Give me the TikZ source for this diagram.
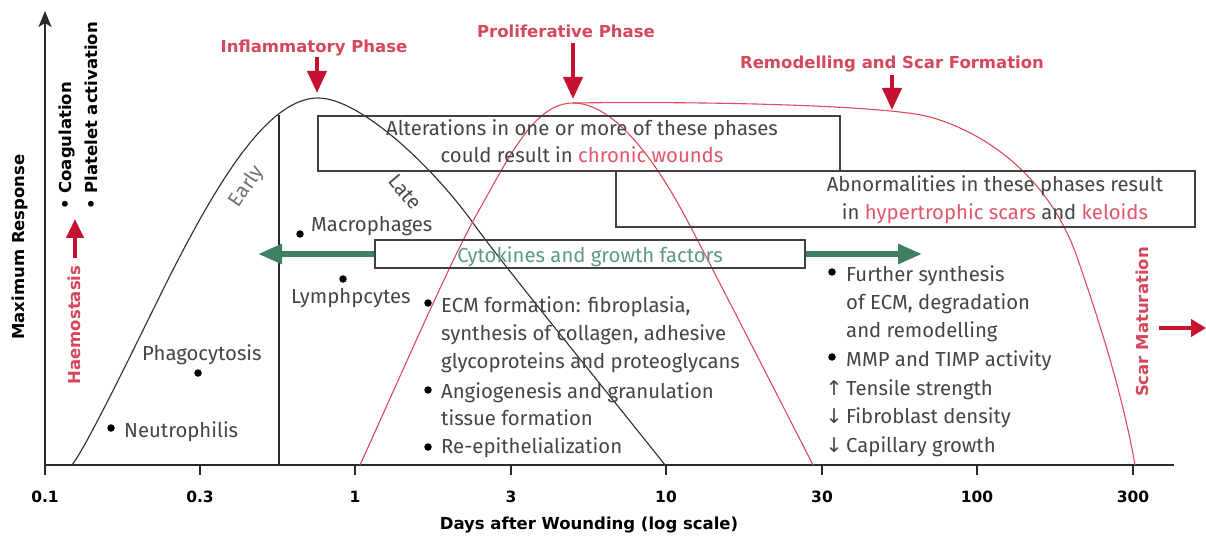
\documentclass[tikz,border=0pt]{standalone}
\usepackage{fontspec}
\setmainfont{Fira Sans}
\newfontfamily\labfont{DejaVu Sans}
\newfontfamily\arrfont{DejaVu Sans}
\usetikzlibrary{arrows.meta}
\definecolor{txt}{HTML}{454545}
\definecolor{lred}{HTML}{D5485C}
\definecolor{tred}{HTML}{E0566C}
\definecolor{ared}{HTML}{C41230}
\definecolor{cred}{HTML}{E04A5A}
\definecolor{gtxt}{HTML}{5E9A80}
\definecolor{garr}{HTML}{3F7F62}
\definecolor{boxc}{HTML}{404040}
\definecolor{axc}{HTML}{2A2A2A}
\begin{document}
\begin{tikzpicture}[x=1pt,y=-1pt,
  body/.style={font=\fontsize{20.3}{24}\selectfont, text=txt, inner sep=0pt},
  lab/.style={font=\labfont\bfseries\fontsize{16.5}{19}\selectfont, text=lred, inner sep=0pt},
  blab/.style={font=\labfont\bfseries\fontsize{16.5}{19}\selectfont, text=black, inner sep=0pt},
  tick/.style={font=\labfont\bfseries\fontsize{15.5}{18}\selectfont, text=black, inner sep=0pt, anchor=base},
  boxst/.style={draw=boxc, line width=1.4pt},
  redarr/.style={draw=ared, line width=4pt, -{Triangle[length=22pt,width=19pt]}},
  grarr/.style={draw=garr, line width=5.5pt, -{Triangle[length=24pt,width=19pt]}},
  dot/.style={circle, fill=black, inner sep=0pt, minimum size=7.5pt},
  curveblk/.style={draw=black!80, line width=1.15pt},
  curvered/.style={draw=cred, line width=1.1pt}]
\fill[white] (0,0) rectangle (1206,537);
\useasboundingbox (0,0) rectangle (1206,537);

% axes
\coordinate (org) at (45,465);
\coordinate (ytop) at (45,11);
\coordinate (xend) at (1174,465);
\draw[axc, line width=1.8pt, -{Stealth[length=16pt,width=13pt,inset=4pt]}] (org) -- (ytop);
\draw[axc, line width=1.8pt] (org) -- (xend);
\foreach \x/\l in {45/0.1,200/0.3,355/1,511/3,666/10,822/30,977/100,1133/300}{
  \draw[axc, line width=1.3pt] (\x,465) -- (\x,475);
  \node[tick] (t\l) at (\x,502) {\l};
}
\node[blab, anchor=base] (xtitle) at (589,529) {Days after Wounding (log scale)};
\node[blab, rotate=90, anchor=base] (ytitle) at (24,247) {Maximum Response};

% inflammatory curve
\draw[curveblk] (72,465) .. controls (90,442) and (157,300) .. (177,262)
  .. controls (222,175) and (270,98) .. (318,98)
  .. controls (360,98) and (433,167) .. (473,223)
  .. controls (503,265) and (620,408) .. (665,465);
\draw[axc, line width=1.5pt] (279,115) -- (279,465);
% proliferative curve
\draw[curvered] (360,465) .. controls (405,366) and (450,262) .. (478,212)
  .. controls (510,155) and (535,103) .. (573,103)
  .. controls (610,103) and (650,150) .. (687,220)
  .. controls (720,283) and (790,420) .. (813,465);
% remodelling curve
\draw[curvered] (573,103) .. controls (720,101) and (890,106) .. (930,117)
  .. controls (990,134) and (1050,180) .. (1077,257)
  .. controls (1090,295) and (1120,380) .. (1135,465);

% boxes
\draw[boxst] (318,116) rectangle (840,171);
\draw[boxst] (616,171) rectangle (1195,227);
\node[boxst, minimum width=430pt, minimum height=28pt, inner sep=0pt] (cyt) at (590,254) {};
\coordinate (gl) at (258,254);
\coordinate (gr) at (922,254);
\draw[grarr] (cyt.west) -- (gl);
\draw[grarr] (cyt.east) -- (gr);
\node[body, text=gtxt, anchor=base] (cyttxt) at (590,262) {Cytokines and growth factors};

\node[body, anchor=base] (alt1) at (582,136) {Alterations in one or more of these phases};
\node[body, anchor=base] (alt2) at (582,163) {could result in \textcolor{tred}{chronic wounds}};
\node[body, anchor=base] (abn1) at (995,192) {Abnormalities in these phases result};
\node[body, anchor=base] (abn2) at (995,220) {in \textcolor{tred}{hypertrophic scars} and \textcolor{tred}{keloids}};

% phase labels and arrows
\node[lab, anchor=base] (infl) at (314,53) {Inflammatory Phase};
\coordinate (ia0) at (317,57); \coordinate (ia1) at (317,93);
\draw[redarr] (ia0) -- (ia1);
\node[lab, anchor=base] (prol) at (566,38) {Proliferative Phase};
\coordinate (pa0) at (573,43); \coordinate (pa1) at (573,99);
\draw[redarr] (pa0) -- (pa1);
\node[lab, anchor=base] (remo) at (892,69) {Remodelling and Scar Formation};
\coordinate (ra0) at (892,75); \coordinate (ra1) at (892,110);
\draw[redarr] (ra0) -- (ra1);

% haemostasis
\node[lab, rotate=90, anchor=base] (haem) at (80,325) {Haemostasis};
\coordinate (ha0) at (75,258); \coordinate (ha1) at (75,219);
\draw[draw=ared, line width=4pt, -{Triangle[length=19pt,width=17pt]}] (ha0) -- (ha1);
\node[blab, rotate=90, anchor=base west] (coag) at (71,210) {\textbullet\ Coagulation};
\node[blab, rotate=90, anchor=base west] (plat) at (97,210) {\textbullet\ Platelet activation};

% scar maturation
\node[lab, rotate=90, anchor=base] (scar) at (1148,322) {Scar Maturation};
\coordinate (sa0) at (1159,328); \coordinate (sa1) at (1206,328);
\draw[draw=ared, line width=4pt, -{Triangle[length=15pt,width=17pt]}] (sa0) -- (sa1);

% early / late
\node[body, rotate=56, text=black!55] (early) at (247,187) {Early};
\node[body, rotate=-50, text=black!70] (late) at (405,192) {Late};

% cells
\node[dot] (d1) at (300,234) {};
\node[body, anchor=base west] (macro) at (311,232) {Macrophages};
\node[dot] (d2) at (343,279) {};
\node[body, anchor=base west] (lymph) at (291,303) {Lymphpcytes};
\node[body, anchor=base west] (phago) at (142,360) {Phagocytosis};
\node[dot] (d3) at (198,373) {};
\node[dot] (d4) at (111,428) {};
\node[body, anchor=base west] (neut) at (124,437) {Neutrophilis};

% ECM list
\node[dot] (e1) at (428,303) {};
\node[body, anchor=base west] (ecm1) at (441,312) {ECM formation: fibroplasia,};
\node[body, anchor=base west] (ecm2) at (441,340) {synthesis of collagen, adhesive};
\node[body, anchor=base west] (ecm3) at (441,368) {glycoproteins and proteoglycans};
\node[dot] (e2) at (428,390) {};
\node[body, anchor=base west] (ang1) at (441,398) {Angiogenesis and granulation};
\node[body, anchor=base west] (ang2) at (441,425) {tissue formation};
\node[dot] (e3) at (428,447) {};
\node[body, anchor=base west] (repi) at (441,453) {Re-epithelialization};

% remodelling list
\node[dot] (r1) at (832,272) {};
\node[body, anchor=base west] (rm1) at (846,281) {Further synthesis};
\node[body, anchor=base west] (rm2) at (846,309) {of ECM, degradation};
\node[body, anchor=base west] (rm3) at (846,337) {and remodelling};
\node[dot] (r2) at (832,357) {};
\node[body, anchor=base west] (rm4) at (846,366) {MMP and TIMP activity};
\node[body, anchor=base] (ar1) at (834,395) {\arrfont ↑};
\node[body, anchor=base west] (rm5) at (846,395) {Tensile strength};
\node[body, anchor=base] (ar2) at (834,423) {\arrfont ↓};
\node[body, anchor=base west] (rm6) at (846,423) {Fibroblast density};
\node[body, anchor=base] (ar3) at (834,452) {\arrfont ↓};
\node[body, anchor=base west] (rm7) at (846,452) {Capillary growth};
\end{tikzpicture}
\end{document}
